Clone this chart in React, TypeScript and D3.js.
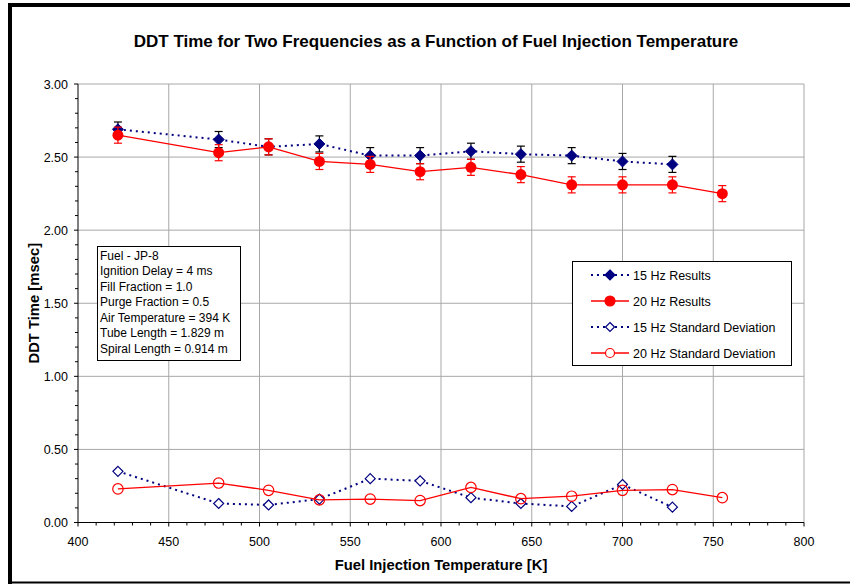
import React from 'react';
import * as d3 from 'd3';

// ---- data ----
const temps15 = [422, 477.5, 505, 533, 561, 588.5, 616.5, 644, 672, 700, 727.5];
const ddt15 = [2.69, 2.62, 2.57, 2.59, 2.51, 2.51, 2.54, 2.52, 2.51, 2.47, 2.45];
const err15 = [0.05, 0.055, 0.055, 0.055, 0.055, 0.055, 0.055, 0.055, 0.055, 0.055, 0.055];
const temps20 = [422, 477.5, 505, 533, 561, 588.5, 616.5, 644, 672, 700, 727.5, 755];
const ddt20 = [2.65, 2.53, 2.57, 2.47, 2.45, 2.4, 2.43, 2.38, 2.31, 2.31, 2.31, 2.25];
const err20 = [0.055, 0.055, 0.055, 0.055, 0.055, 0.055, 0.055, 0.055, 0.055, 0.055, 0.055, 0.055];
const sd15 = [0.35, 0.13, 0.12, 0.16, 0.3, 0.285, 0.17, 0.13, 0.11, 0.26, 0.105];
const sd20 = [0.23, 0.27, 0.22, 0.155, 0.16, 0.15, 0.24, 0.163, 0.18, 0.22, 0.225, 0.17];

const xTicks = [400, 450, 500, 550, 600, 650, 700, 750, 800];
const yTicks = [0, 0.5, 1, 1.5, 2, 2.5, 3];
const legendLabels = ['15 Hz Results', '20 Hz Results', '15 Hz Standard Deviation', '20 Hz Standard Deviation'];
const noteLines = [
  'Fuel - JP-8',
  'Ignition Delay = 4 ms',
  'Fill Fraction = 1.0',
  'Purge Fraction = 0.5',
  'Air Temperature = 394 K',
  'Tube Length = 1.829 m',
  'Spiral Length = 0.914 m',
];
const title = 'DDT Time for Two Frequencies as a Function of Fuel Injection Temperature';
const xLabel = 'Fuel Injection Temperature [K]';
const yLabel = 'DDT Time [msec]';

const FONT = "'Liberation Sans', Arial, sans-serif";
const BLUE = '#000080';
const RED = '#ff0000';
const GRID = '#a8a8a8';

const x = d3.scaleLinear().domain([400, 800]).range([78, 804]);
const y = d3.scaleLinear().domain([0, 3]).range([522.5, 84]);

type Pt = { x: number; y: number; e?: number };

const diamond = (cx: number, cy: number, r: number) =>
  `M${cx},${cy - r}L${cx + r},${cy}L${cx},${cy + r}L${cx - r},${cy}Z`;

export default function App() {
  const line = d3
    .line<Pt>()
    .x((d) => x(d.x))
    .y((d) => y(d.y));

  const s15: Pt[] = temps15.map((t, i) => ({ x: t, y: ddt15[i], e: err15[i] }));
  const s20: Pt[] = temps20.map((t, i) => ({ x: t, y: ddt20[i], e: err20[i] }));
  const d15: Pt[] = temps15.map((t, i) => ({ x: t, y: sd15[i] }));
  const d20: Pt[] = temps20.map((t, i) => ({ x: t, y: sd20[i] }));

  const xMinor = d3.range(400, 801, 10);
  const yMinor = d3.range(0, 3.001, 0.1);
  const [x0, x1] = x.range();
  const [yb, yt] = y.range();

  const errBars = (pts: Pt[], color: string) =>
    pts.map((d, i) => {
      const cx = x(d.x);
      const ya = y(d.y + (d.e || 0));
      const yb2 = y(d.y - (d.e || 0));
      return (
        <g key={i} stroke={color} strokeWidth={1.2}>
          <line x1={cx} x2={cx} y1={ya} y2={yb2} />
          <line x1={cx - 4} x2={cx + 4} y1={ya} y2={ya} />
          <line x1={cx - 4} x2={cx + 4} y1={yb2} y2={yb2} />
        </g>
      );
    });

  const dash = '2,4';

  const legX = 572.5;
  const legY = 261.5;
  const legRows = [275, 301, 327, 353];

  return (
    <svg
      width={850}
      height={584}
      style={{ position: 'absolute', left: 0, top: 0, background: '#fff' }}
      fontFamily={FONT}
    >
      <rect x={0} y={0} width={850} height={584} fill="#fff" />
      {/* frame */}
      <line x1={10} x2={10} y1={3} y2={584} stroke="#000" strokeWidth={4} />
      <line x1={8} x2={850} y1={5} y2={5} stroke="#000" strokeWidth={4} />
      <line x1={8} x2={850} y1={582.5} y2={582.5} stroke="#000" strokeWidth={2} />

      {/* title */}
      <text x={436} y={46.5} textAnchor="middle" fontSize={17} fontWeight="bold" fill="#000">
        {title}
      </text>

      {/* grid */}
      {xTicks.slice(1).map((t) => (
        <line key={'gx' + t} x1={x(t)} x2={x(t)} y1={yb} y2={yt} stroke={GRID} strokeWidth={1} />
      ))}
      {yTicks.slice(1).map((t) => (
        <line key={'gy' + t} x1={x0} x2={x1} y1={y(t)} y2={y(t)} stroke={GRID} strokeWidth={1} />
      ))}

      {/* axes */}
      <line x1={x0} x2={x0} y1={yb} y2={yt} stroke="#000" strokeWidth={1} />
      <line x1={x0} x2={x1} y1={yb} y2={yb} stroke="#000" strokeWidth={1} />
      {yMinor.map((t, i) => (
        <line key={'ym' + i} x1={x0 - (i % 5 === 0 ? 4 : 3)} x2={x0} y1={y(t)} y2={y(t)} stroke="#000" strokeWidth={1} />
      ))}
      {xMinor.map((t, i) => (
        <line key={'xm' + i} x1={x(t)} x2={x(t)} y1={yb} y2={yb + (i % 5 === 0 ? 4 : 3)} stroke="#000" strokeWidth={1} />
      ))}
      {yTicks.map((t) => (
        <text key={'yl' + t} x={68} y={y(t) + 4.5} textAnchor="end" fontSize={12.5} fill="#000">
          {t.toFixed(2)}
        </text>
      ))}
      {xTicks.map((t) => (
        <text key={'xl' + t} x={x(t)} y={546} textAnchor="middle" fontSize={12.5} fill="#000">
          {t}
        </text>
      ))}
      <text x={441} y={570} textAnchor="middle" fontSize={14.8} fontWeight="bold" fill="#000">
        {xLabel}
      </text>
      <text
        transform={`translate(39,${(yb + yt) / 2}) rotate(-90)`}
        textAnchor="middle"
        fontSize={14.8}
        fontWeight="bold"
        fill="#000"
      >
        {yLabel}
      </text>

      {/* 15 Hz results */}
      <path d={line(s15) || ''} fill="none" stroke={BLUE} strokeWidth={2} strokeDasharray={dash} />
      {errBars(s15, '#000')}
      {s15.map((d, i) => (
        <path key={'m15' + i} d={diamond(x(d.x), y(d.y), 5.5)} fill={BLUE} stroke={BLUE} />
      ))}

      {/* 20 Hz results */}
      <path d={line(s20) || ''} fill="none" stroke={RED} strokeWidth={1.3} />
      {errBars(s20, RED)}
      {s20.map((d, i) => (
        <circle key={'m20' + i} cx={x(d.x)} cy={y(d.y)} r={5.5} fill={RED} />
      ))}

      {/* 15 Hz SD */}
      <path d={line(d15) || ''} fill="none" stroke={BLUE} strokeWidth={2} strokeDasharray={dash} />
      {d15.map((d, i) => (
        <path key={'s15' + i} d={diamond(x(d.x), y(d.y), 5)} fill="#fff" stroke={BLUE} strokeWidth={1.2} />
      ))}

      {/* 20 Hz SD */}
      <path d={line(d20) || ''} fill="none" stroke={RED} strokeWidth={1.3} />
      {d20.map((d, i) => (
        <circle key={'s20' + i} cx={x(d.x)} cy={y(d.y)} r={5.2} fill="none" stroke={RED} strokeWidth={1.2} />
      ))}

      {/* annotation box */}
      <rect x={97.5} y={246.5} width={143} height={114} fill="#fff" stroke="#000" strokeWidth={1} />
      {noteLines.map((s, i) => (
        <text key={'n' + i} x={100} y={259.5 + i * 15.5} fontSize={12} fill="#000">
          {s}
        </text>
      ))}

      {/* legend */}
      <rect x={legX} y={legY} width={219} height={104} fill="#fff" stroke="#000" strokeWidth={1} />
      {legendLabels.map((s, i) => {
        const ly = legRows[i];
        const isBlue = i % 2 === 0;
        const filled = i < 2;
        return (
          <g key={'lg' + i}>
            <line
              x1={591}
              x2={629}
              y1={ly}
              y2={ly}
              stroke={isBlue ? BLUE : RED}
              strokeWidth={isBlue ? 2 : 1.3}
              strokeDasharray={isBlue ? dash : undefined}
            />
            {isBlue ? (
              <path
                d={diamond(610, ly, filled ? 5 : 4.5)}
                fill={filled ? BLUE : '#fff'}
                stroke={BLUE}
                strokeWidth={1.2}
              />
            ) : (
              <circle cx={610} cy={ly} r={filled ? 5 : 4.5} fill={filled ? RED : '#fff'} stroke={RED} strokeWidth={1.2} />
            )}
            <text x={633} y={ly + 4.5} fontSize={12.5} fill="#000">
              {s}
            </text>
          </g>
        );
      })}
    </svg>
  );
}
